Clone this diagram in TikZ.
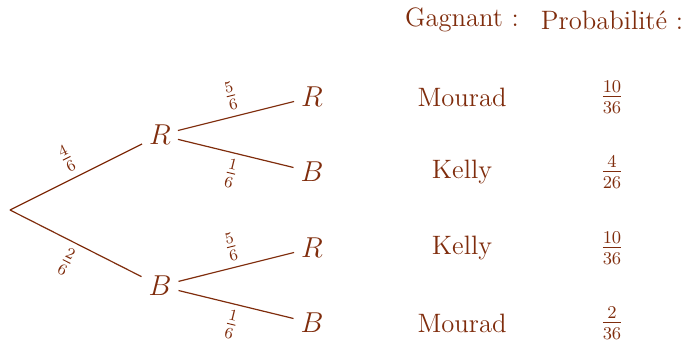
\documentclass[tikz,border=0pt]{standalone}
\usepackage{amsmath,amssymb}
\usepackage{tikz}
\usepackage{xcolor}
\usetikzlibrary{positioning}
\definecolor{treeink}{HTML}{7F2C0C}
\tikzset{
  treenode/.style={text=treeink, font=\Large},
  branch/.style={draw=treeink, line width=0.6pt},
  branchlabel/.style={text=treeink, font=\large, sloped, inner sep=3pt, pos=0.5},
  tablecell/.style={text=treeink, font=\fontsize{13.3}{16}\selectfont},
  tablehead/.style={text=treeink, font=\fontsize{13.3}{16}\selectfont}
}

\begin{document}
\begin{tikzpicture}[x=0.5pt,y=-0.5pt]
  \useasboundingbox (0,0) rectangle (689,342);
  % the tree
  \coordinate (root) at (10,210);
  \node[treenode] (r) at (160,135) {$R$};
  \node[treenode] (b) at (160,286) {$B$};
  \node[treenode] (rr) at (312,97) {$R$};
  \node[treenode] (rb) at (312,172) {$B$};
  \node[treenode] (br) at (312,248) {$R$};
  \node[treenode] (bb) at (312,323) {$B$};
  \draw[branch] (root) -- node[branchlabel,above] {$\frac{4}{6}$} (r);
  \draw[branch] (root) -- node[branchlabel,below] {$\frac{2}{6}$} (b);
  \draw[branch] (r) -- node[branchlabel,above] {$\frac{5}{6}$} (rr);
  \draw[branch] (r) -- node[branchlabel,below] {$\frac{1}{6}$} (rb);
  \draw[branch] (b) -- node[branchlabel,above] {$\frac{5}{6}$} (br);
  \draw[branch] (b) -- node[branchlabel,below] {$\frac{1}{6}$} (bb);
  % winners and probabilities
  \node[tablehead] (gagnant) at (462,20) {Gagnant :};
  \node[tablehead] (proba) at (612,20) {Probabilité :};
  \node[tablecell] (win1) at (462,97) {Mourad};
  \node[tablecell] (win2) at (462,172) {Kelly};
  \node[tablecell] (win3) at (462,248) {Kelly};
  \node[tablecell] (win4) at (462,323) {Mourad};
  \node[tablecell] (p1) at (612,97) {$\frac{10}{36}$};
  \node[tablecell] (p2) at (612,172) {$\frac{4}{26}$};
  \node[tablecell] (p3) at (612,248) {$\frac{10}{36}$};
  \node[tablecell] (p4) at (612,323) {$\frac{2}{36}$};
\end{tikzpicture}
\end{document}
